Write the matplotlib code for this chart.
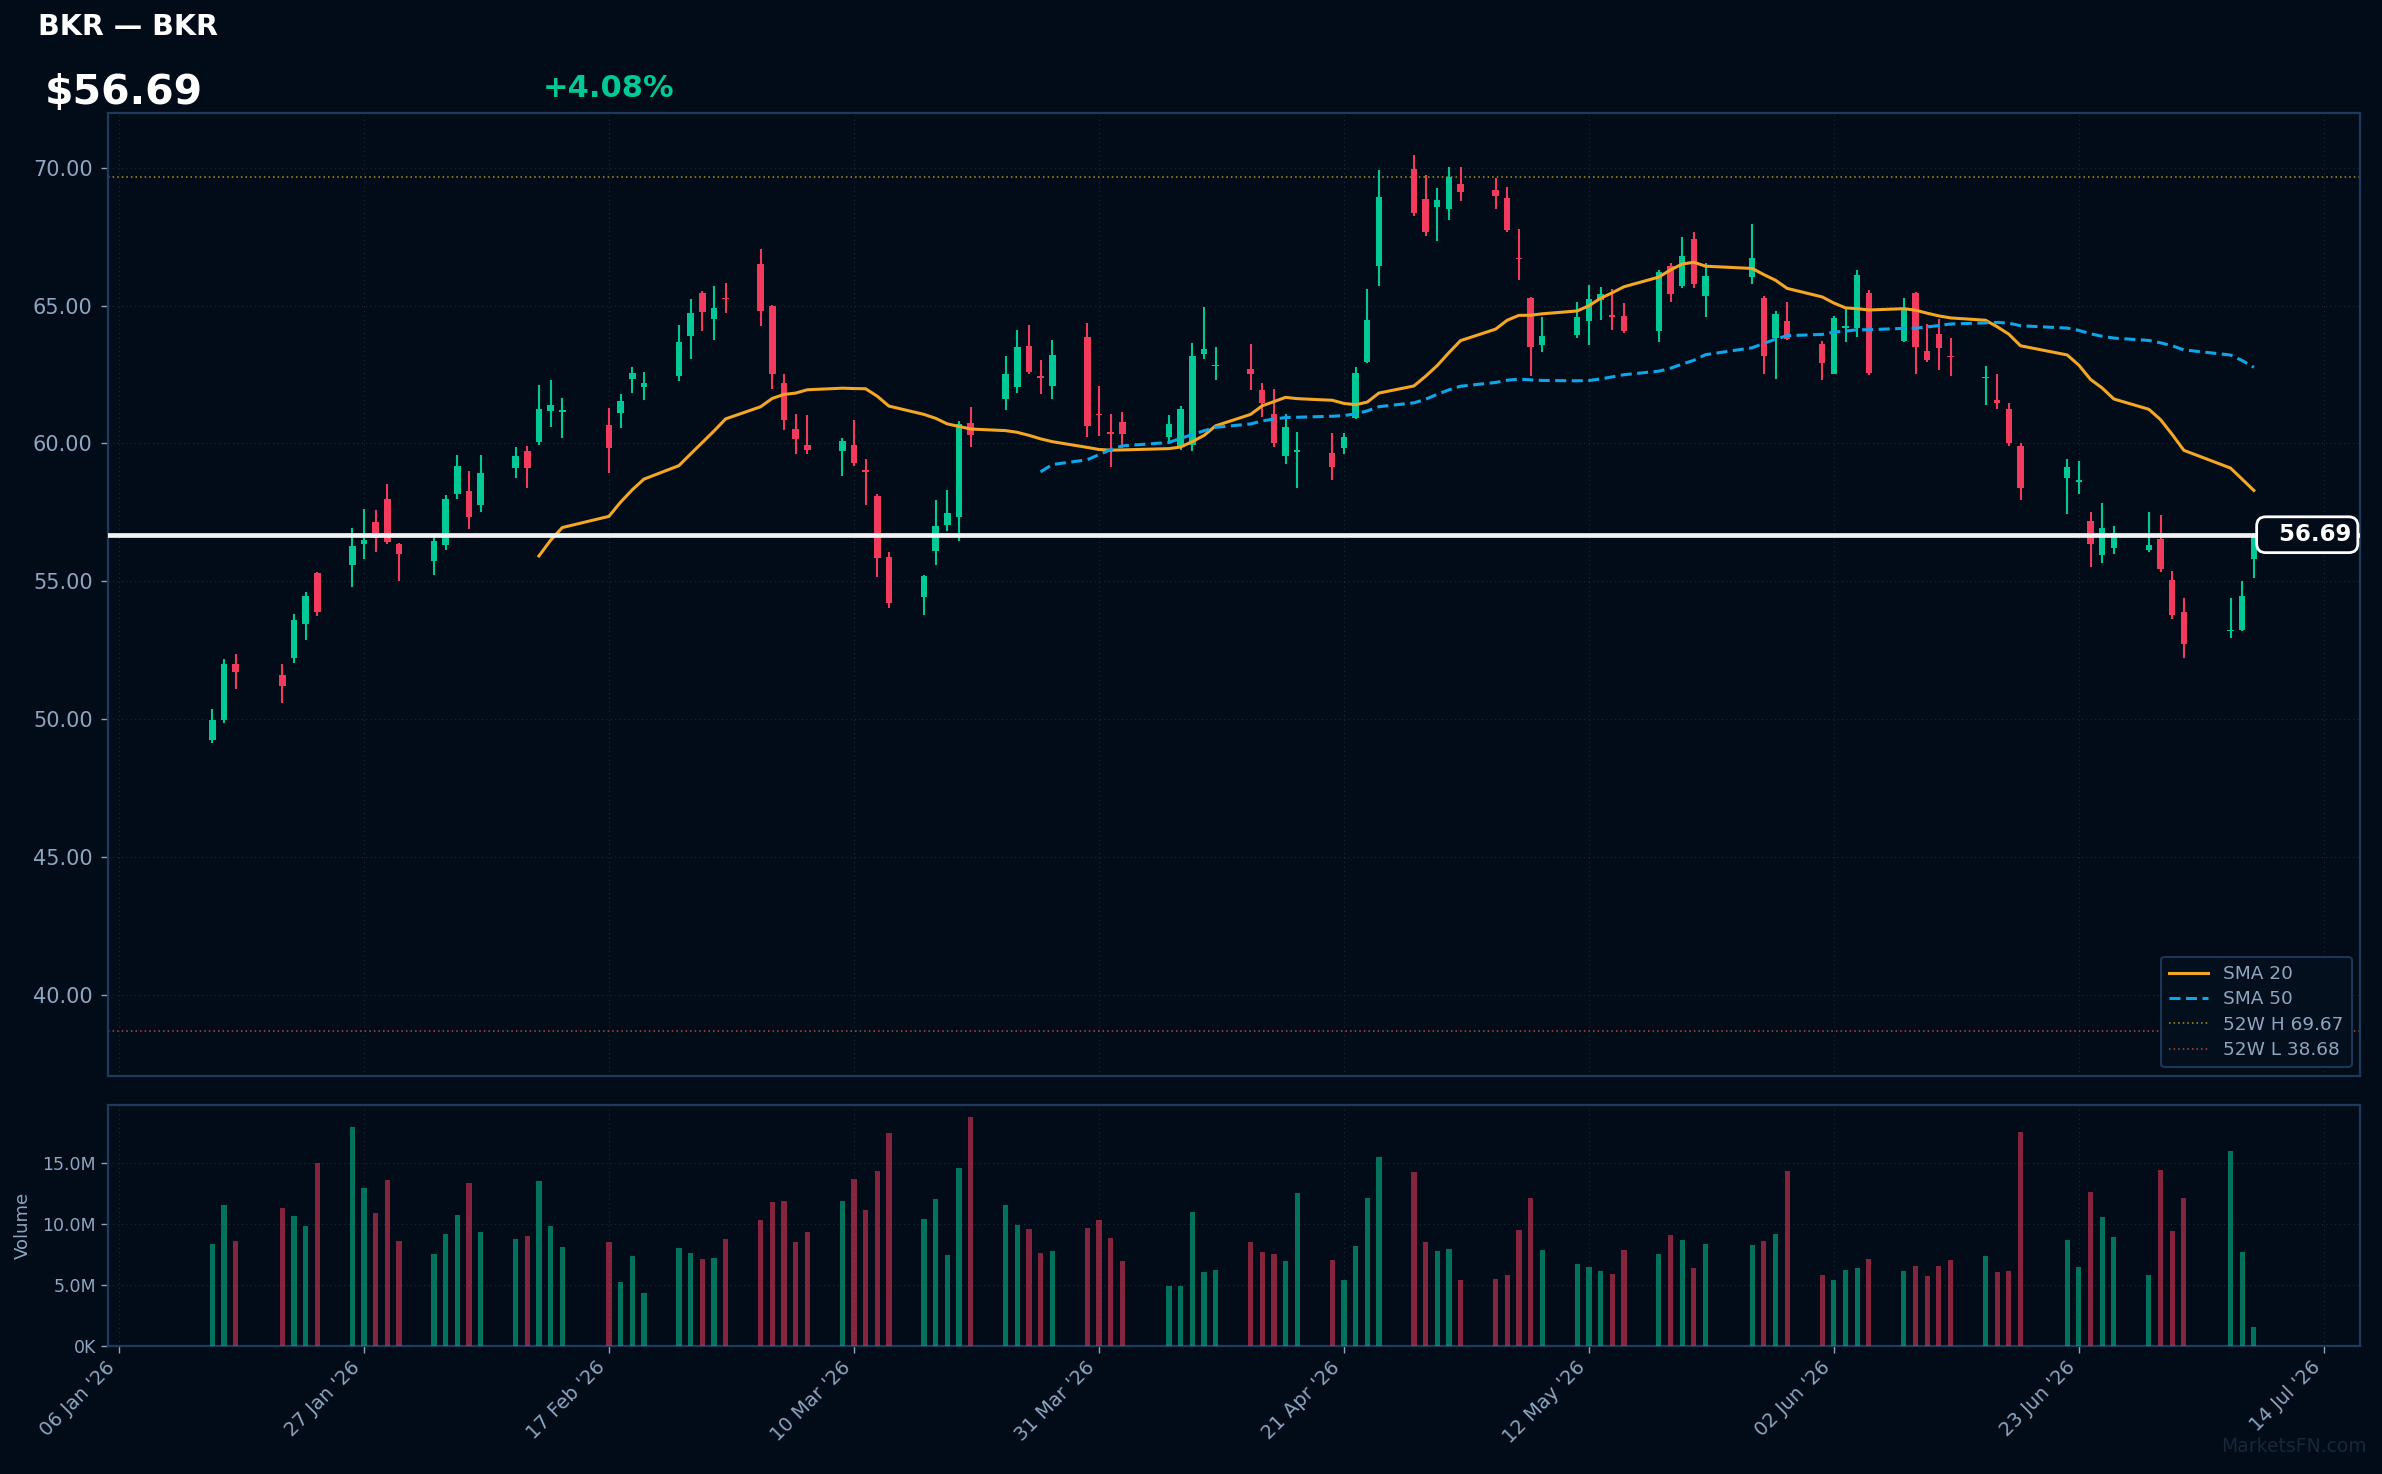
import matplotlib
matplotlib.use("Agg")
import matplotlib.pyplot as plt
import matplotlib.dates as mdates
from matplotlib.ticker import FuncFormatter, FixedLocator
import numpy as np
import pandas as pd

# ---------------- data ----------------
dates = [
    "2026-01-14", "2026-01-15", "2026-01-16", "2026-01-20", "2026-01-21", "2026-01-22", "2026-01-23",
    "2026-01-26", "2026-01-27", "2026-01-28", "2026-01-29", "2026-01-30",
    "2026-02-02", "2026-02-03", "2026-02-04", "2026-02-05", "2026-02-06",
    "2026-02-09", "2026-02-10", "2026-02-11", "2026-02-12", "2026-02-13",
    "2026-02-17", "2026-02-18", "2026-02-19", "2026-02-20",
    "2026-02-23", "2026-02-24", "2026-02-25", "2026-02-26", "2026-02-27",
    "2026-03-02", "2026-03-03", "2026-03-04", "2026-03-05", "2026-03-06",
    "2026-03-09", "2026-03-10", "2026-03-11", "2026-03-12", "2026-03-13",
    "2026-03-16", "2026-03-17", "2026-03-18", "2026-03-19", "2026-03-20",
    "2026-03-23", "2026-03-24", "2026-03-25", "2026-03-26", "2026-03-27",
    "2026-03-30", "2026-03-31", "2026-04-01", "2026-04-02",
    "2026-04-06", "2026-04-07", "2026-04-08", "2026-04-09", "2026-04-10",
    "2026-04-13", "2026-04-14", "2026-04-15", "2026-04-16", "2026-04-17",
    "2026-04-20", "2026-04-21", "2026-04-22", "2026-04-23", "2026-04-24",
    "2026-04-27", "2026-04-28", "2026-04-29", "2026-04-30", "2026-05-01",
    "2026-05-04", "2026-05-05", "2026-05-06", "2026-05-07", "2026-05-08",
    "2026-05-11", "2026-05-12", "2026-05-13", "2026-05-14", "2026-05-15",
    "2026-05-18", "2026-05-19", "2026-05-20", "2026-05-21", "2026-05-22",
    "2026-05-26", "2026-05-27", "2026-05-28", "2026-05-29",
    "2026-06-01", "2026-06-02", "2026-06-03", "2026-06-04", "2026-06-05",
    "2026-06-08", "2026-06-09", "2026-06-10", "2026-06-11", "2026-06-12",
    "2026-06-15", "2026-06-16", "2026-06-17", "2026-06-18",
    "2026-06-22", "2026-06-23", "2026-06-24", "2026-06-25", "2026-06-26",
    "2026-06-29", "2026-06-30", "2026-07-01", "2026-07-02",
    "2026-07-06", "2026-07-07", "2026-07-08",
]

opens = [
    49.25, 49.98, 52.00, 51.62, 52.22, 53.47, 55.29, 55.60, 56.37, 57.14, 57.97, 56.35,
    55.75, 56.33, 58.16, 58.27, 57.76, 59.10, 59.72, 60.05, 61.17, 61.14,
    60.67, 61.10, 62.33, 62.03, 62.44, 63.89, 65.45, 64.51, 65.27,
    66.51, 64.98, 62.19, 60.52, 59.93, 59.73, 59.93, 59.02, 58.10, 55.88,
    54.43, 56.10, 57.04, 57.33, 60.74, 61.61, 62.04, 63.53, 62.43, 62.09,
    63.85, 61.07, 60.40, 60.79, 60.23, 59.91, 59.95, 63.25, 62.80,
    62.70, 61.93, 61.06, 59.54, 59.68, 59.65, 59.84, 60.91, 62.95, 66.44,
    69.97, 68.87, 68.59, 68.51, 69.40, 69.19, 68.89, 66.74, 65.27, 63.57,
    63.95, 64.45, 65.19, 64.62, 64.61, 64.08, 66.43, 65.70, 67.41, 65.34,
    66.05, 65.27, 63.84, 64.44, 63.61, 62.52, 64.20, 64.17, 65.45,
    63.73, 65.45, 63.37, 63.96, 63.17, 62.36, 61.58, 61.25, 59.91,
    58.75, 58.62, 57.18, 55.95, 56.20, 56.14, 56.54, 55.04, 53.88,
    53.20, 53.24, 55.82,
]

highs = [
    50.37, 52.17, 52.36, 52.00, 53.81, 54.61, 55.35, 56.93, 57.61, 57.59, 58.53, 56.40,
    56.69, 58.12, 59.57, 58.99, 59.57, 59.87, 59.91, 62.12, 62.30, 61.65,
    61.29, 61.79, 62.77, 62.59, 64.30, 65.23, 65.53, 65.70, 65.81,
    67.04, 65.02, 62.51, 61.06, 61.03, 60.19, 60.85, 59.44, 58.16, 56.06,
    55.24, 57.95, 58.31, 60.80, 61.32, 63.17, 64.11, 64.29, 63.02, 63.74,
    64.36, 62.08, 61.06, 61.13, 61.03, 61.36, 63.64, 64.95, 63.49,
    63.61, 62.21, 61.97, 61.05, 60.42, 60.38, 60.38, 62.77, 65.60, 69.91,
    70.45, 69.75, 69.26, 70.02, 70.02, 69.62, 69.30, 67.77, 65.31, 64.60,
    65.12, 65.74, 65.67, 65.60, 65.08, 66.30, 66.55, 67.49, 67.66, 66.55,
    67.95, 65.34, 64.80, 65.12, 63.70, 64.62, 64.87, 66.29, 65.58,
    65.27, 65.50, 64.33, 64.51, 63.81, 62.80, 62.51, 61.46, 60.00,
    59.44, 59.36, 57.51, 57.84, 57.01, 57.51, 57.40, 55.37, 54.40,
    54.40, 55.00, 56.75,
]

lows = [
    49.12, 49.86, 51.11, 50.60, 52.04, 52.87, 53.74, 54.81, 55.80, 56.07, 56.35, 55.01,
    55.24, 56.15, 57.99, 56.90, 57.52, 58.73, 58.39, 59.95, 60.60, 60.20,
    58.93, 60.55, 61.83, 61.57, 62.27, 63.06, 64.08, 63.74, 64.72,
    64.25, 61.97, 60.48, 59.61, 59.61, 58.82, 59.20, 57.76, 55.17, 54.05,
    53.78, 55.60, 56.82, 56.46, 59.87, 61.21, 61.83, 62.51, 61.79, 61.61,
    60.23, 60.27, 59.14, 59.83, 60.04, 59.77, 59.71, 63.06, 62.29,
    61.93, 60.95, 59.87, 59.25, 58.39, 58.67, 59.61, 60.90, 62.90, 65.70,
    68.25, 67.54, 67.35, 68.12, 68.80, 68.51, 67.65, 65.94, 62.43, 63.33,
    63.84, 63.57, 64.47, 64.11, 64.00, 63.68, 65.14, 65.65, 65.65, 64.59,
    65.78, 62.52, 62.35, 63.76, 62.31, 62.52, 63.69, 63.86, 62.50,
    63.68, 62.52, 62.95, 62.67, 62.46, 61.41, 61.25, 59.91, 57.95,
    57.45, 58.16, 55.52, 55.66, 55.99, 56.07, 55.35, 53.63, 52.23,
    52.96, 53.20, 55.12,
]

closes = [
    49.98, 52.00, 51.71, 51.22, 53.60, 54.46, 53.88, 56.27, 56.50, 56.58, 56.41, 56.00,
    56.46, 57.97, 59.18, 57.35, 58.93, 59.55, 59.10, 61.25, 61.38, 61.20,
    59.84, 61.53, 62.55, 62.19, 63.68, 64.72, 64.78, 64.91, 65.24,
    64.80, 62.51, 60.85, 60.16, 59.76, 60.08, 59.29, 58.95, 55.84, 54.21,
    55.19, 57.01, 57.48, 60.70, 60.31, 62.51, 63.49, 62.59, 62.37, 63.21,
    60.63, 61.02, 60.34, 60.34, 60.69, 61.25, 63.17, 63.41, 62.84,
    62.51, 61.46, 60.01, 60.59, 59.75, 59.14, 60.23, 62.55, 64.47, 68.93,
    68.36, 67.65, 68.81, 69.66, 69.10, 68.99, 67.75, 66.68, 63.50, 63.89,
    64.58, 65.22, 65.42, 64.59, 64.09, 66.21, 65.42, 66.79, 65.78, 66.06,
    66.72, 63.18, 64.70, 63.77, 62.93, 64.55, 64.24, 66.10, 62.56,
    64.83, 63.50, 63.01, 63.47, 63.13, 62.42, 61.48, 60.01, 58.39,
    59.14, 58.66, 56.37, 56.93, 56.75, 56.31, 55.44, 53.79, 52.73,
    53.24, 54.46, 56.69,
]

volumes_m = [
    8.33, 11.53, 8.58, 11.28, 10.63, 9.81, 14.97, 17.92, 12.92, 10.87,
    13.58, 8.58, 7.51, 9.15, 10.71, 13.33, 9.32, 8.74, 8.99, 13.50,
    9.81, 8.09, 8.50, 5.22, 7.35, 4.32, 8.00, 7.60, 7.10, 7.19,
    8.74, 10.30, 11.78, 11.86, 8.50, 9.32, 11.86, 13.66, 11.12, 14.32,
    17.43, 10.38, 12.02, 7.43, 14.56, 18.74, 11.53, 9.89, 9.56, 7.60,
    7.76, 9.64, 10.30, 8.83, 6.94, 4.89, 4.89, 10.96, 6.04, 6.20,
    8.50, 7.68, 7.51, 6.94, 12.51, 7.02, 5.38, 8.17, 12.10, 15.46,
    14.23, 8.50, 7.76, 7.92, 5.38, 5.46, 5.79, 9.48, 12.10, 7.84,
    6.69, 6.45, 6.12, 5.87, 7.84, 7.51, 9.07, 8.66, 6.37, 8.33,
    8.25, 8.58, 9.15, 14.32, 5.79, 5.38, 6.20, 6.37, 7.10, 6.12,
    6.53, 5.71, 6.53, 7.02, 7.35, 6.04, 6.12, 17.51, 8.66, 6.45,
    12.60, 10.55, 8.91, 5.79, 14.40, 9.40, 12.10, 15.96, 7.68, 1.53,
]

ticker_name = "BKR — BKR"
last_price = 56.69
pct_change = 4.08
high_52w = 69.67
low_52w = 38.68
price_ticks = [40, 45, 50, 55, 60, 65, 70]
vol_ticks = [0, 5e6, 10e6, 15e6]
date_ticks = ["2026-01-06", "2026-01-27", "2026-02-17", "2026-03-10", "2026-03-31",
              "2026-04-21", "2026-05-12", "2026-06-02", "2026-06-23", "2026-07-14"]

# ---------------- style ----------------
BG = "#010c18"
GREEN = "#00c896"
RED = "#f23b5c"
SPINE = "#1f3a5c"
TXT = "#8fa5c0"
GRID = "#1a2a3b"

df = pd.DataFrame({"date": pd.to_datetime(dates), "open": opens, "high": highs,
                   "low": lows, "close": closes, "vol": np.array(volumes_m) * 1e6})
x = mdates.date2num(df["date"])
o = df["open"].values
c = df["close"].values
h = df["high"].values
l = df["low"].values
up = c >= o
cols = np.where(up, GREEN, RED)
sma20 = df["close"].rolling(20).mean()
sma50 = df["close"].rolling(50).mean()

W, H = 2382, 1474
fig = plt.figure(figsize=(W / 100, H / 100), dpi=100, facecolor=BG)
L, R = 108 / W, 2360 / W
ax = fig.add_axes([L, 1 - 1075.8 / H, R - L, (1075.8 - 112.8) / H], facecolor=BG)
axv = fig.add_axes([L, 1 - 1345.7 / H, R - L, (1345.7 - 1104.7) / H], facecolor=BG, sharex=ax)

# candles
ax.vlines(x, l, h, colors=cols, linewidth=1.5, zorder=3)
body_b = np.minimum(o, c)
body_h = np.maximum(np.abs(c - o), 0.05)
ax.bar(x, body_h, bottom=body_b, width=0.56, color=cols, linewidth=0, zorder=4)

# moving averages
ax.plot(x, sma20, color="#f5a623", lw=2.2, zorder=5, label="SMA 20")
ax.plot(x, sma50, color="#0ea5e9", lw=2.2, dashes=(3.6, 1.8), zorder=5, label="SMA 50")

# 52w lines
ax.axhline(high_52w, color="#a8961c", lw=1.1, ls=(0, (1, 2)), zorder=2, label=f"52W H {high_52w:.2f}")
ax.axhline(low_52w, color="#b5502e", lw=1.1, ls=(0, (1, 2)), zorder=2, label=f"52W L {low_52w:.2f}")

# last price line + tag
ax.axhline(last_price, color="#f2f2f2", lw=3.4, zorder=6)
ax.annotate(f"  {last_price:.2f}", xy=(0.9962, last_price), xycoords=("axes fraction", "data"),
            ha="right", va="center", color="white", fontsize=16.5, fontweight="bold", zorder=10,
            bbox=dict(boxstyle="round,pad=0.28,rounding_size=0.4", fc=BG, ec="white", lw=2.0))

# axes cosmetics
xmin = x[0] - 8.94
xmax = x[-1] + 9.1
ax.set_xlim(xmin, xmax)
ax.set_ylim(37.07, 71.99)
ax.yaxis.set_major_locator(FixedLocator(price_ticks))
ax.yaxis.set_major_formatter(FuncFormatter(lambda v, p: f"{v:.2f}"))
ax.xaxis.set_major_locator(FixedLocator(mdates.date2num(pd.to_datetime(date_ticks))))
ax.tick_params(axis="x", labelbottom=False, length=0)
ax.tick_params(axis="y", colors=TXT, labelsize=15, length=5, width=1, pad=6)
ax.grid(True, color=GRID, lw=0.8, ls=(0, (1, 3)))
ax.set_axisbelow(True)
for s in ax.spines.values():
    s.set_color(SPINE)
    s.set_linewidth(1.6)

leg = ax.legend(loc="lower right", fontsize=13.3, frameon=True, facecolor="#04101d",
                edgecolor=SPINE, labelcolor=TXT, labelspacing=0.4, borderpad=0.45,
                handlelength=2.1, framealpha=0.95, borderaxespad=0.45)
leg.get_frame().set_linewidth(1.4)

# volume
vcols = np.where(up, GREEN, RED)
axv.bar(x, df["vol"].values, width=0.45, color=vcols, alpha=0.55, linewidth=0, zorder=3)
axv.set_ylim(0, 19.75e6)
axv.yaxis.set_major_locator(FixedLocator(vol_ticks))
axv.yaxis.set_major_formatter(FuncFormatter(
    lambda v, p: f"{v / 1e6:.1f}M" if v >= 1e6 else f"{v / 1e3:.0f}K"))
axv.set_ylabel("Volume", color=TXT, fontsize=13, labelpad=8)
axv.xaxis.set_major_formatter(mdates.DateFormatter("%d %b '%y"))
axv.tick_params(axis="x", colors=TXT, labelsize=14, length=5, width=1, labelrotation=45)
for lab in axv.get_xticklabels():
    lab.set_ha("right")
axv.tick_params(axis="y", colors=TXT, labelsize=12.5, length=5, width=1)
axv.grid(True, color=GRID, lw=0.8, ls=(0, (1, 3)))
axv.set_axisbelow(True)
for s in axv.spines.values():
    s.set_color(SPINE)
    s.set_linewidth(1.6)

# header texts
fig.text(38 / W, 1 - 27 / H, ticker_name, color="white", fontsize=20.5, fontweight="bold",
         ha="left", va="center")
fig.text(45 / W, 1 - 104 / H, f"${last_price:.2f}", color="white", fontsize=29.5, fontweight="bold",
         ha="left", va="baseline")
fig.text(543 / W, 1 - 97 / H, f"{'+' if pct_change >= 0 else ''}{pct_change:.2f}%", color=GREEN,
         fontsize=22, fontweight="bold", ha="left", va="baseline")
fig.text(2367 / W, 1 - 1447 / H, "MarketsFN.com", color="#16283a", fontsize=13.5,
         ha="right", va="center")

fig.savefig("out.png", dpi=100, facecolor=BG)
